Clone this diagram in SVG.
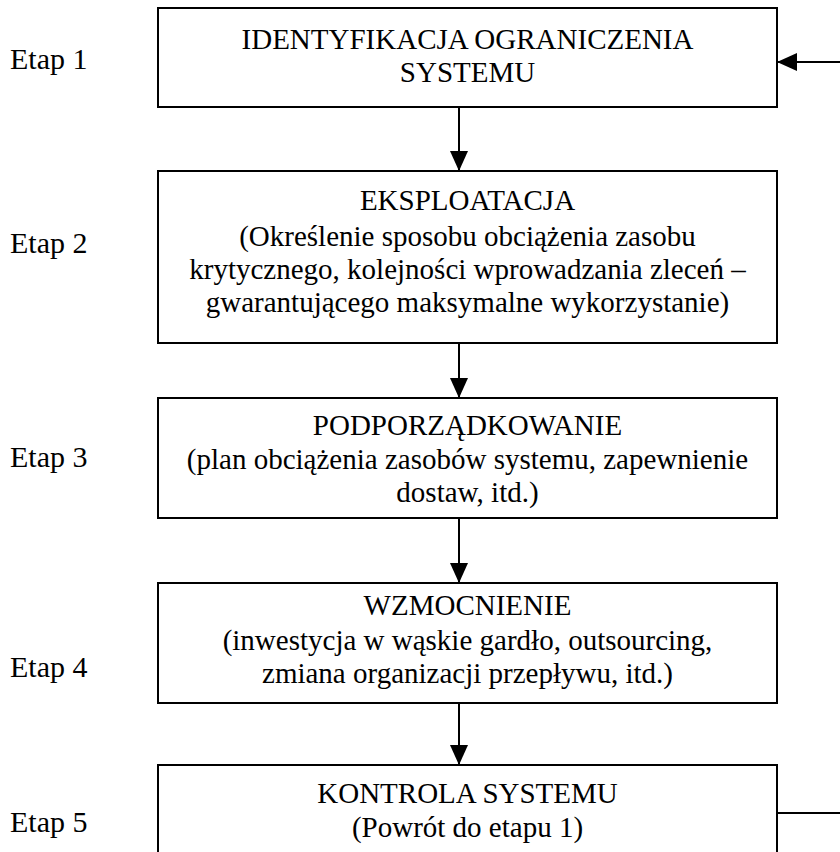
<svg xmlns="http://www.w3.org/2000/svg" width="840" height="852" viewBox="0 0 840 852">
<defs>
<marker id="ah" viewBox="0 0 20 18" refX="20" refY="9" markerWidth="20" markerHeight="18" markerUnits="userSpaceOnUse" orient="auto">
<path d="M0,0 L20,9 L0,18 Z" fill="#000"/>
</marker>
<style>
.box{fill:#fff;stroke:#000;stroke-width:2}
.t{font-family:"Liberation Serif","Times New Roman",serif;font-size:29px;fill:#000;text-anchor:middle}
.lab{font-family:"Liberation Serif","Times New Roman",serif;font-size:30px;fill:#000}
.con{stroke:#000;stroke-width:2;fill:none}
</style>
</defs>
<rect width="840" height="852" fill="#fff"/>
<g id="labels">
<text class="lab" x="10" y="69">Etap 1</text>
<text class="lab" x="10" y="253">Etap 2</text>
<text class="lab" x="10" y="467">Etap 3</text>
<text class="lab" x="10" y="677">Etap 4</text>
<text class="lab" x="10" y="832">Etap 5</text>
</g>
<g id="etap1">
<rect class="box" x="158" y="8" width="619" height="99"/>
<text class="t" x="467.5" y="49">IDENTYFIKACJA OGRANICZENIA</text>
<text class="t" x="467.5" y="82">SYSTEMU</text>
</g>
<g id="etap2">
<rect class="box" x="158" y="171" width="619" height="172"/>
<text class="t" x="467.5" y="210">EKSPLOATACJA</text>
<text class="t" x="467.5" y="246">(Określenie sposobu obciążenia zasobu</text>
<text class="t" x="467.5" y="279">krytycznego, kolejności wprowadzania zleceń –</text>
<text class="t" x="467.5" y="312">gwarantującego maksymalne wykorzystanie)</text>
</g>
<g id="etap3">
<rect class="box" x="158" y="398" width="619" height="120"/>
<text class="t" x="467.5" y="435">PODPORZĄDKOWANIE</text>
<text class="t" x="467.5" y="469">(plan obciążenia zasobów systemu, zapewnienie</text>
<text class="t" x="467.5" y="502">dostaw, itd.)</text>
</g>
<g id="etap4">
<rect class="box" x="158" y="583" width="619" height="120"/>
<text class="t" x="467.5" y="615">WZMOCNIENIE</text>
<text class="t" x="467.5" y="650">(inwestycja w wąskie gardło, outsourcing,</text>
<text class="t" x="467.5" y="683">zmiana organizacji przepływu, itd.)</text>
</g>
<g id="etap5">
<rect class="box" x="158" y="765" width="619" height="100"/>
<text class="t" x="467.5" y="803">KONTROLA SYSTEMU</text>
<text class="t" x="467.5" y="837">(Powrót do etapu 1)</text>
</g>
<g id="connectors">
<line class="con" x1="459" y1="107" x2="459" y2="171" marker-end="url(#ah)"/>
<line class="con" x1="459" y1="343" x2="459" y2="398" marker-end="url(#ah)"/>
<line class="con" x1="459" y1="518" x2="459" y2="583" marker-end="url(#ah)"/>
<line class="con" x1="459" y1="703" x2="459" y2="765" marker-end="url(#ah)"/>
<line class="con" x1="777" y1="813" x2="840" y2="813"/>
<line class="con" x1="840" y1="62" x2="777" y2="62" marker-end="url(#ah)"/>
</g>
</svg>
